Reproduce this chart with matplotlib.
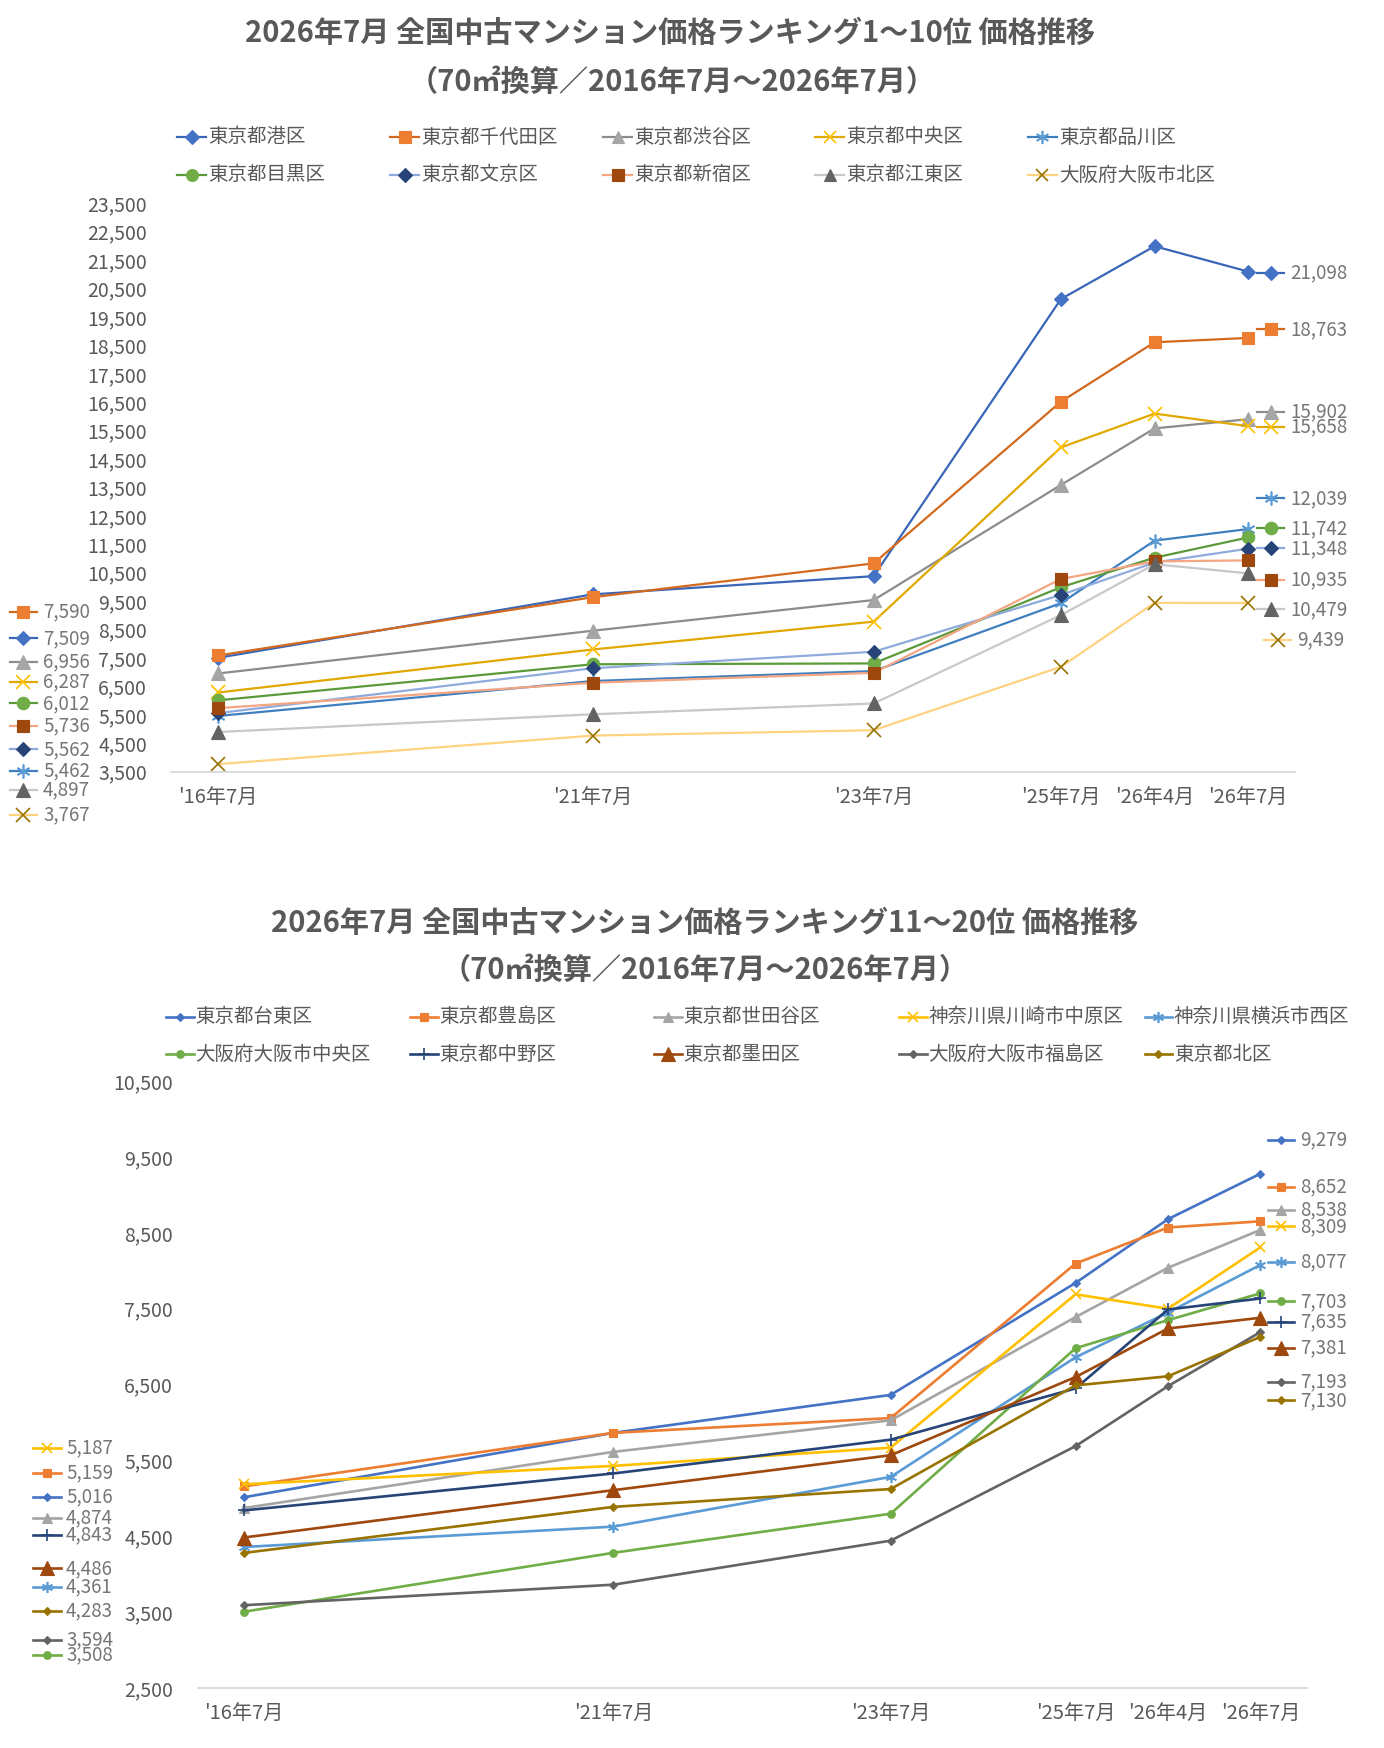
import matplotlib
matplotlib.use('Agg')
import matplotlib.pyplot as plt
from matplotlib.lines import Line2D
from matplotlib.ticker import FuncFormatter, FixedLocator

plt.rcParams['font.family'] = ['Noto Sans CJK JP', 'DejaVu Sans']

# ---------------- data ----------------
periods = ["'16年7月", "'21年7月", "'23年7月", "'25年7月", "'26年4月", "'26年7月"]

top_title = ["2026年7月 全国中古マンション価格ランキング1～10位 価格推移",
             "（70㎡換算／2016年7月～2026年7月）"]
bottom_title = ["2026年7月 全国中古マンション価格ランキング11～20位 価格推移",
                "（70㎡換算／2016年7月～2026年7月）"]

top_names = ['東京都港区', '東京都千代田区', '東京都渋谷区', '東京都中央区', '東京都品川区',
             '東京都目黒区', '東京都文京区', '東京都新宿区', '東京都江東区', '大阪府大阪市北区']
minato     = [7509, 9740, 10380, 20130, 21990, 21098]
chiyoda    = [7590, 9640, 10830, 16520, 18610, 18763]
shibuya    = [6956, 8460, 9540, 13590, 15580, 15902]
chuo       = [6287, 7800, 8780, 14910, 16100, 15658]
shinagawa  = [5462, 6690, 7040, 9430, 11630, 12039]
meguro     = [6012, 7280, 7310, 9990, 11030, 11742]
bunkyo     = [5562, 7140, 7720, 9720, 10860, 11348]
shinjuku   = [5736, 6630, 6980, 10280, 10900, 10935]
koto       = [4897, 5520, 5900, 9010, 10800, 10479]
osaka_kita = [3767, 4770, 4960, 7190, 9440, 9439]
top_values = [minato, chiyoda, shibuya, chuo, shinagawa,
              meguro, bunkyo, shinjuku, koto, osaka_kita]
top_yticks = [3500, 4500, 5500, 6500, 7500, 8500, 9500, 10500, 11500, 12500, 13500,
              14500, 15500, 16500, 17500, 18500, 19500, 20500, 21500, 22500, 23500]

bottom_names = ['東京都台東区', '東京都豊島区', '東京都世田谷区', '神奈川県川崎市中原区', '神奈川県横浜市西区',
                '大阪府大阪市中央区', '東京都中野区', '東京都墨田区', '大阪府大阪市福島区', '東京都北区']
taito      = [5016, 5865, 6365, 7840, 8680, 9279]
toshima    = [5159, 5865, 6060, 8095, 8570, 8652]
setagaya   = [4874, 5615, 6030, 7390, 8040, 8538]
nakahara   = [5187, 5430, 5670, 7690, 7500, 8309]
yoko_nishi = [4361, 4630, 5285, 6860, 7450, 8077]
osaka_chuo = [3508, 4285, 4800, 6980, 7350, 7703]
nakano     = [4843, 5330, 5775, 6450, 7490, 7635]
sumida     = [4486, 5110, 5570, 6600, 7240, 7381]
fukushima  = [3594, 3865, 4445, 5690, 6480, 7193]
kita       = [4283, 4890, 5125, 6490, 6610, 7130]
bottom_values = [taito, toshima, setagaya, nakahara, yoko_nishi,
                 osaka_chuo, nakano, sumida, fukushima, kita]
bottom_yticks = [2500, 3500, 4500, 5500, 6500, 7500, 8500, 9500, 10500]

# ---------------- layout / style ----------------
W, H = 1384, 1748
period_pos = [0, 4, 7, 9, 10, 11]   # category spacing of the chart
AST = (6, 2, 0)

# (line color, marker, marker color, markersize, linewidth)
top_styles = [
    ('#3A66B8', 'D', '#4472C4', 7.0, 1.6),
    ('#D2691E', 's', '#ED7D31', 9.0, 1.6),
    ('#8C8C8C', '^', '#A5A5A5', 9.5, 1.6),
    ('#E0A800', 'x', '#FFC000', 9.5, 1.6),
    ('#3F7FC0', AST, '#5B9BD5', 10.0, 1.6),
    ('#5A9A3A', 'o', '#70AD47', 9.0, 1.6),
    ('#8FAADC', 'D', '#264478', 7.0, 1.6),
    ('#F4A582', 's', '#9E480E', 9.0, 1.6),
    ('#C8C8C8', '^', '#636363', 9.5, 1.6),
    ('#FFD280', 'x', '#997300', 9.5, 1.6),
]
bottom_styles = [
    ('#4472C4', 'D', '#4472C4', 4.0, 1.9),
    ('#ED7D31', 's', '#ED7D31', 6.0, 1.9),
    ('#A5A5A5', '^', '#A5A5A5', 6.5, 1.9),
    ('#FFC000', 'x', '#FFC000', 7.0, 1.9),
    ('#5B9BD5', AST, '#5B9BD5', 8.0, 1.9),
    ('#70AD47', 'o', '#70AD47', 5.5, 1.9),
    ('#264478', '+', '#264478', 8.0, 1.9),
    ('#9E480E', '^', '#9E480E', 10.5, 1.9),
    ('#636363', 'D', '#636363', 4.0, 1.9),
    ('#997300', 'D', '#997300', 4.0, 1.9),
]

top_left_y = [638.3, 611.7, 661.7, 681.7, 770.7, 703.3, 749.3, 725.7, 790, 815]
top_right_y = [272.7, 329.3, 411.7, 426.7, 498.3, 528.3, 548.3, 580, 609.3, 639.5]
top_right_dx = [0, 0, 0, 0, 0, 0, 0, 0, 0, 7]
bot_left_y = [1496.7, 1472.7, 1517.7, 1447.7, 1586.7, 1655, 1535, 1568.3, 1640, 1610.7]
bot_right_y = [1139.6, 1186.8, 1209.6, 1226.4, 1261.7, 1301.3, 1321.8, 1348.2, 1382.2, 1400.3]

TXT = '#595959'
LBL = '#767676'


def fx(x):
    return x / W


def fy(y):
    return 1 - y / H


fig = plt.figure(figsize=(W / 100, H / 100), dpi=100)


def key(x0, x1, y, style, ms_scale=1.0):
    lc, m, mc, ms, lw = style
    fig.add_artist(Line2D([fx(x0), fx(x1)], [fy(y), fy(y)], transform=fig.transFigure,
                          color=lc, lw=lw))
    filled = m not in ('x', '+', AST)
    fig.add_artist(Line2D([fx((x0 + x1) / 2)], [fy(y)], transform=fig.transFigure,
                          lw=0, marker=m, ms=ms * ms_scale,
                          mfc=mc if filled else 'none', mec=mc,
                          mew=1.2 if not filled else 0.8))


def make_axes(rect, values, styles, yticks, fs_tick):
    ax = fig.add_axes(rect)
    for vals, st in zip(values, styles):
        lc, m, mc, ms, lw = st
        filled = m not in ('x', '+', AST)
        ax.plot(period_pos, vals, color=lc, lw=lw, marker=m, ms=ms,
                mfc=mc if filled else 'none', mec=mc,
                mew=1.2 if not filled else 0.8, clip_on=False)
    ax.set_xlim(-0.5, 11.5)
    ax.set_ylim(yticks[0], yticks[-1])
    ax.yaxis.set_major_locator(FixedLocator(yticks))
    ax.yaxis.set_major_formatter(FuncFormatter(lambda v, p: f'{v:,.0f}'))
    ax.xaxis.set_major_locator(FixedLocator(period_pos))
    ax.set_xticklabels(periods)
    for s in ('top', 'right', 'left'):
        ax.spines[s].set_visible(False)
    ax.spines['bottom'].set_color('#D9D9D9')
    ax.spines['bottom'].set_linewidth(1.3)
    ax.tick_params(axis='y', length=0, pad=17.5, labelsize=fs_tick, labelcolor=TXT)
    ax.tick_params(axis='x', length=0, pad=11.5, labelsize=14.5, labelcolor=TXT)
    ax.patch.set_alpha(0)
    return ax


# ---------------- top chart ----------------
ax1 = make_axes([fx(171.4), fy(771.7), fx(1295) - fx(171.4), fy(203.3) - fy(771.7)],
                top_values, top_styles, top_yticks, 14)

fig.text(fx(670), fy(33), top_title[0], ha='center', va='center', fontsize=21,
         fontweight='bold', color=TXT)
fig.text(fx(672), fy(82), top_title[1], ha='center', va='center', fontsize=21,
         fontweight='bold', color=TXT)

top_cols = [177, 390, 603, 815, 1027.5]
top_rows = [137, 175]
for i, (name, st) in enumerate(zip(top_names, top_styles)):
    x0 = top_cols[i % 5]
    y = top_rows[i // 5]
    key(x0, x0 + 29, y, st, 0.95)
    fig.text(fx(x0 + 31.5), fy(y), name, ha='left', va='center', fontsize=14, color=TXT)

for i, (vals, st) in enumerate(zip(top_values, top_styles)):
    key(10, 37, top_left_y[i], st)
    fig.text(fx(43), fy(top_left_y[i]), f'{vals[0]:,}', ha='left', va='center',
             fontsize=13.5, color=LBL)
    dx = top_right_dx[i]
    key(1257 + dx, 1284 + dx, top_right_y[i], st)
    fig.text(fx(1290 + dx), fy(top_right_y[i]), f'{vals[-1]:,}', ha='left', va='center',
             fontsize=13.5, color=LBL)

# ---------------- bottom chart ----------------
ax2 = make_axes([fx(197.5), fy(1688.3), fx(1306.6) - fx(197.5), fy(1081) - fy(1688.3)],
                bottom_values, bottom_styles, bottom_yticks, 14)

fig.text(fx(705), fy(923), bottom_title[0], ha='center', va='center', fontsize=21,
         fontweight='bold', color=TXT)
fig.text(fx(705), fy(970), bottom_title[1], ha='center', va='center', fontsize=21,
         fontweight='bold', color=TXT)

bot_cols = [166, 410, 654, 899, 1144.6]
bot_rows = [1016.7, 1054]
for i, (name, st) in enumerate(zip(bottom_names, bottom_styles)):
    x0 = bot_cols[i % 5]
    y = bot_rows[i // 5]
    key(x0, x0 + 27.5, y, st, 1.0)
    fig.text(fx(x0 + 29.5), fy(y), name, ha='left', va='center', fontsize=14, color=TXT)

for i, (vals, st) in enumerate(zip(bottom_values, bottom_styles)):
    key(33, 61, bot_left_y[i], st)
    fig.text(fx(66), fy(bot_left_y[i]), f'{vals[0]:,}', ha='left', va='center',
             fontsize=13.5, color=LBL)
    key(1267.5, 1294, bot_right_y[i], st)
    fig.text(fx(1300), fy(bot_right_y[i]), f'{vals[-1]:,}', ha='left', va='center',
             fontsize=13.5, color=LBL)

fig.savefig('out.png', dpi=100, facecolor='white')
